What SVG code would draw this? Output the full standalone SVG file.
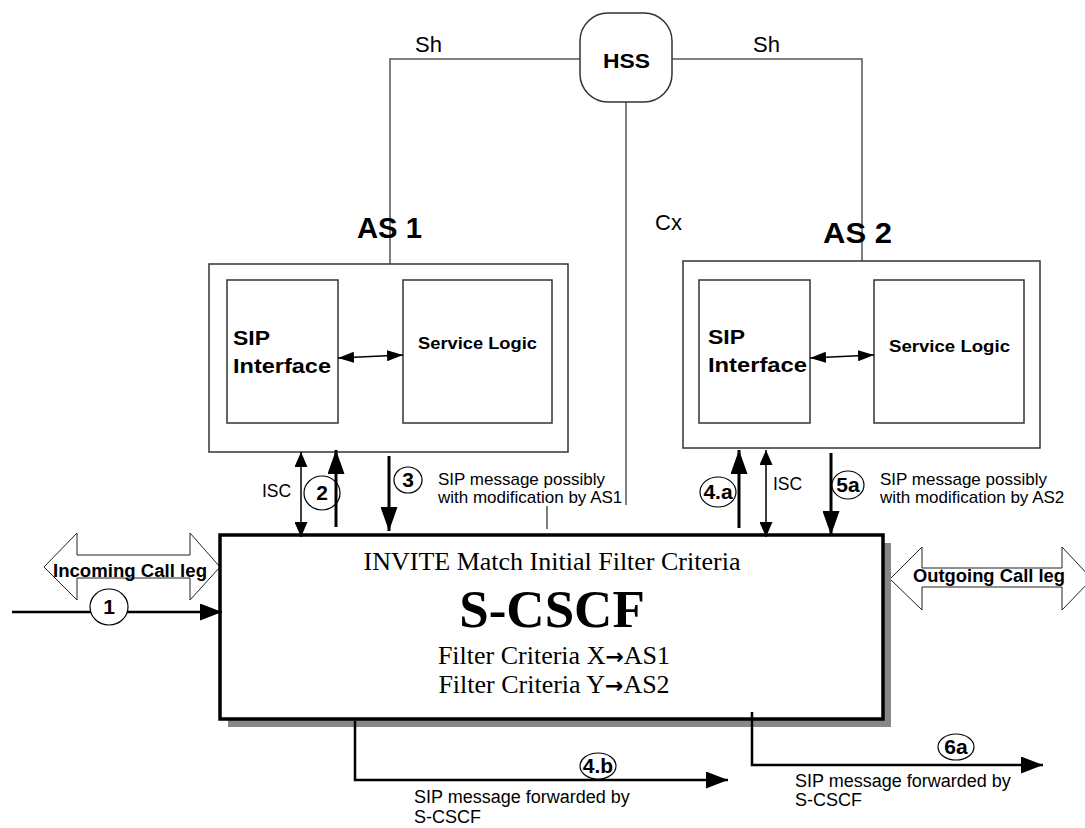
<svg xmlns="http://www.w3.org/2000/svg" width="1085" height="828" viewBox="0 0 1085 828">
<style>
.sans{font-family:"Liberation Sans",Arial,sans-serif;fill:#000}
.serif{font-family:"Liberation Serif","Times New Roman",serif;fill:#000}
.arw{font-family:"DejaVu Sans",sans-serif;font-weight:bold}
.b{font-weight:bold}
.box{fill:#fff;stroke:#333;stroke-width:1.5}
.link{fill:none;stroke:#555;stroke-width:1.5}
.thin{fill:none;stroke:#000;stroke-width:1.5}
.thick{fill:none;stroke:#000;stroke-width:3}
.med{fill:none;stroke:#000;stroke-width:2.5}
.lbl{fill:#fff;stroke:#000;stroke-width:1.2}
.num{font-family:"Liberation Sans",Arial,sans-serif;font-weight:bold;font-size:21px;text-anchor:middle}
.leg{fill:#fff;stroke:#222;stroke-width:1}
.msg{font-size:17px}
</style>
<defs>
<marker id="hs" markerUnits="userSpaceOnUse" markerWidth="15" markerHeight="13" refX="15" refY="6.5" orient="auto-start-reverse"><path d="M0,0 L15,6.5 L0,13 z" fill="#000"/></marker>
<marker id="hl" markerUnits="userSpaceOnUse" markerWidth="24" markerHeight="17" refX="24" refY="8.5" orient="auto"><path d="M0,0 L24,8.5 L0,17 z" fill="#000"/></marker>
<marker id="hm" markerUnits="userSpaceOnUse" markerWidth="22" markerHeight="17" refX="22" refY="8.5" orient="auto"><path d="M0,0 L22,8.5 L0,17 z" fill="#000"/></marker>
<marker id="hi" markerUnits="userSpaceOnUse" markerWidth="16" markerHeight="11" refX="16" refY="5.5" orient="auto-start-reverse"><path d="M0,0 L16,5.5 L0,11 z" fill="#000"/></marker>
</defs>
<rect width="1085" height="828" fill="#fff"/>

<g id="interfaces">
<path class="link" d="M580,59 H390 V264"/>
<path class="link" d="M672,59 H862 V261"/>
<path class="link" d="M626,102 V505"/>
<path class="link" d="M547,506 V529"/>
<text class="sans" x="415" y="52" font-size="22">Sh</text>
<text class="sans" x="753" y="52" font-size="22">Sh</text>
<text class="sans" x="655" y="230" font-size="22">Cx</text>
</g>

<g id="hss">
<rect x="580" y="13" width="92" height="89" rx="28" ry="28" class="box"/>
<text class="sans b" x="603" y="68" font-size="21" textLength="47" lengthAdjust="spacingAndGlyphs">HSS</text>
</g>

<g id="as1">
<text class="sans b" x="357" y="238" font-size="29" textLength="65" lengthAdjust="spacingAndGlyphs">AS 1</text>
<rect x="209" y="264" width="359" height="188" class="box"/>
<rect x="227" y="280" width="111" height="143" class="box"/>
<rect x="403" y="280" width="149" height="143" class="box"/>
<text class="sans b" x="233" y="345" font-size="21" textLength="37" lengthAdjust="spacingAndGlyphs">SIP</text>
<text class="sans b" x="233" y="373" font-size="21" textLength="98" lengthAdjust="spacingAndGlyphs">Interface</text>
<text class="sans b" x="418" y="349" font-size="17" textLength="119" lengthAdjust="spacingAndGlyphs">Service Logic</text>
<line class="thin" x1="338" y1="358" x2="403" y2="355" marker-start="url(#hi)" marker-end="url(#hi)"/>
</g>

<g id="as2">
<text class="sans b" x="823" y="243" font-size="29" textLength="69" lengthAdjust="spacingAndGlyphs">AS 2</text>
<rect x="683" y="261" width="357" height="187" class="box"/>
<rect x="699" y="280" width="111" height="143" class="box"/>
<rect x="874" y="280" width="150" height="143" class="box"/>
<text class="sans b" x="708" y="344" font-size="21" textLength="37" lengthAdjust="spacingAndGlyphs">SIP</text>
<text class="sans b" x="708" y="372" font-size="21" textLength="99" lengthAdjust="spacingAndGlyphs">Interface</text>
<text class="sans b" x="889" y="352" font-size="17" textLength="121" lengthAdjust="spacingAndGlyphs">Service Logic</text>
<line class="thin" x1="810" y1="358" x2="874" y2="355" marker-start="url(#hi)" marker-end="url(#hi)"/>
</g>

<g id="incoming-leg">
<polygon class="leg" points="44,567 77,533 77,555 190,555 190,533 220,567 190,600 190,578 77,578 77,600"/>
<text class="sans b" x="53" y="577" font-size="17.5" textLength="154" lengthAdjust="spacingAndGlyphs">Incoming Call leg</text>
</g>

<g id="outgoing-leg">
<polygon class="leg" points="890,579 922,547 922,568 1062,568 1062,547 1092,579 1062,610 1062,587 922,587 922,610"/>
<text class="sans b" x="913" y="582" font-size="17.5" textLength="152" lengthAdjust="spacingAndGlyphs">Outgoing Call leg</text>
</g>

<g id="scscf">
<rect x="228" y="543" width="663" height="184" fill="#888"/>
<rect x="220" y="535" width="663" height="184" fill="#fff" stroke="#000" stroke-width="3.5"/>
<text class="serif" x="552" y="570" font-size="26" text-anchor="middle">INVITE Match Initial Filter Criteria</text>
<text class="serif b" x="552" y="627" font-size="53" text-anchor="middle">S-CSCF</text>
<text class="serif" x="554" y="664" font-size="26" text-anchor="middle">Filter Criteria X<tspan class="arw" font-size="22">→</tspan>AS1</text>
<text class="serif" x="554" y="693" font-size="26" text-anchor="middle">Filter Criteria Y<tspan class="arw" font-size="22">→</tspan>AS2</text>
</g>

<g id="connectors">
<!-- AS1 side -->
<line class="thin" x1="301" y1="452" x2="301" y2="537" marker-start="url(#hs)" marker-end="url(#hs)"/>
<text class="sans" x="262" y="497" font-size="17.5">ISC</text>
<ellipse class="lbl" cx="322" cy="493" rx="18" ry="17"/>
<text class="num" x="322" y="500">2</text>
<line class="thick" x1="336" y1="527" x2="336" y2="450" marker-end="url(#hl)"/>
<line class="thick" x1="389" y1="456" x2="389" y2="531" marker-end="url(#hl)"/>
<ellipse class="lbl" cx="408" cy="480" rx="14" ry="13"/>
<text class="num" x="408" y="487">3</text>
<text class="sans msg" x="438" y="485">SIP message possibly</text>
<text class="sans msg" x="438" y="503">with modification by AS1</text>

<!-- AS2 side -->
<ellipse class="lbl" cx="718" cy="492" rx="18" ry="15"/>
<text class="num" x="718" y="499">4.a</text>
<line class="thick" x1="739" y1="528" x2="739" y2="450" marker-end="url(#hl)"/>
<line class="thin" x1="766" y1="450" x2="766" y2="537" marker-start="url(#hs)" marker-end="url(#hs)"/>
<text class="sans" x="773" y="490" font-size="17.5">ISC</text>
<line class="thick" x1="831" y1="453" x2="831" y2="535" marker-end="url(#hl)"/>
<ellipse class="lbl" cx="848" cy="485" rx="16" ry="14"/>
<text class="num" x="848" y="492">5a</text>
<text class="sans msg" x="880" y="485">SIP message possibly</text>
<text class="sans msg" x="880" y="503">with modification by AS2</text>

<!-- incoming -->
<line class="med" x1="12" y1="612" x2="222" y2="612" marker-end="url(#hm)"/>
<ellipse class="lbl" cx="109" cy="607" rx="19" ry="18"/>
<text class="num" x="109" y="614">1</text>

<!-- outgoing 4.b -->
<path class="med" d="M355,721 V780 H728" marker-end="url(#hm)"/>
<ellipse class="lbl" cx="598" cy="766" rx="18" ry="13"/>
<text class="num" x="598" y="773">4.b</text>
<text class="sans" x="414" y="803" font-size="18">SIP message forwarded by</text>
<text class="sans" x="414" y="823" font-size="18">S-CSCF</text>

<!-- outgoing 6a -->
<path class="med" d="M752,712 V765 H1043" marker-end="url(#hm)"/>
<ellipse class="lbl" cx="956" cy="747" rx="18" ry="13"/>
<text class="num" x="956" y="754">6a</text>
<text class="sans" x="795" y="787" font-size="18">SIP message forwarded by</text>
<text class="sans" x="795" y="806" font-size="18">S-CSCF</text>
</g>
</svg>
